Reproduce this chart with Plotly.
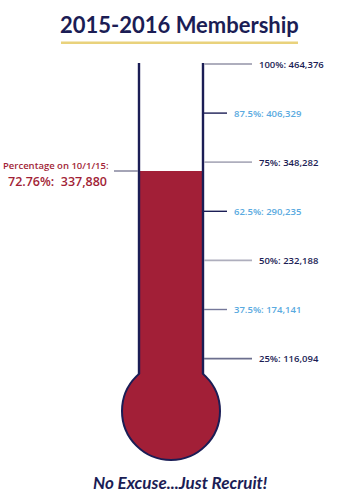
import plotly.graph_objects as go
import math

# ---- data ----
tick_pcts = [100, 87.5, 75, 62.5, 50, 37.5, 25]
tick_counts = [464376, 406329, 348282, 290235, 232188, 174141, 116094]
goal = 464376
current = 337880
current_date = "10/1/15"
title_text = "2015-2016 Membership"
footer_text = "No Excuse...Just Recruit!"

current_pct = current / goal * 100

W, H = 360, 504
TOP_PX = 64.0      # pixel row of 100%
K = 3.928          # pixels per percent
y_top = 100 + TOP_PX / K
y_bot = 100 - (H - TOP_PX) / K


def pct_of_px(py):
    return 100 - (py - TOP_PX) / K


def paper_y(py):
    return 1 - py / H


NAVY = "#1b1d55"
RED = "#a21f37"
LIGHTBLUE = "#5aaae0"
GOLD = "#e9d27c"
FONT = "Lato"
LFONT = "Open Sans"

# bulb geometry (pixels)
bx, by, br = 171, 411, 49
lw_x, rw_x = 139, 203
wall_bottom_px = by - math.sqrt(br**2 - (bx - lw_x) ** 2)

fig = go.Figure()

# mercury column
base = pct_of_px(by)
fig.add_trace(go.Bar(
    x=[bx], y=[current_pct - base], base=[base], width=[rw_x - lw_x - 1.6],
    marker=dict(color=RED, line=dict(width=0)), hoverinfo="skip", showlegend=False,
))

shapes = []
# bulb
shapes.append(dict(type="circle", xref="x", yref="y", layer="below",
                   x0=bx - br, x1=bx + br,
                   y0=pct_of_px(by + br), y1=pct_of_px(by - br),
                   fillcolor=RED, line=dict(color=NAVY, width=2)))
# tube walls
for wx in (lw_x, rw_x):
    shapes.append(dict(type="line", xref="x", yref="y", layer="above",
                       x0=wx, x1=wx, y0=pct_of_px(wall_bottom_px), y1=100.25,
                       line=dict(color=NAVY, width=2.4)))

annotations = []
minor_line_colors = {87.5: NAVY, 62.5: NAVY, 37.5: "#75789a"}
major_line_colors = {100: "#aeaebd", 75: "#aeaebd", 50: "#aeaebd", 25: "#6c6f8e"}
for p, c in zip(tick_pcts, tick_counts):
    major = (p % 25 == 0)
    x_end = 252 if major else 227
    col = major_line_colors.get(p) if major else minor_line_colors.get(p)
    shapes.append(dict(type="line", xref="x", yref="y", layer="above",
                       x0=rw_x + 1, x1=x_end, y0=p, y1=p,
                       line=dict(color=col, width=1.8 if major else 1.4)))
    annotations.append(dict(
        x=x_end + 5, y=p, xref="x", yref="y", xanchor="left", yanchor="middle",
        text=f"{p:g}%: {c:,}", showarrow=False,
        font=dict(family=LFONT, size=9.5, weight=600, color=NAVY if major else LIGHTBLUE),
    ))

# pointer to current level
shapes.append(dict(type="line", xref="x", yref="y", layer="above",
                   x0=114, x1=lw_x - 1, y0=current_pct, y1=current_pct,
                   line=dict(color="#8e8ea4", width=1.6)))
annotations.append(dict(x=111, y=paper_y(166), xref="x", yref="paper",
                        xanchor="right", yanchor="middle", showarrow=False,
                        text=f"Percentage on {current_date}:",
                        font=dict(family=LFONT, size=9.5, weight=600, color=RED)))
annotations.append(dict(x=109, y=paper_y(181.5), xref="x", yref="paper",
                        xanchor="right", yanchor="middle", showarrow=False,
                        text=f"{current_pct:.2f}%:&nbsp;&nbsp;{current:,}",
                        font=dict(family=LFONT, size=12.5, weight=600, color=RED)))

# title + underline
annotations.append(dict(x=179.5, y=paper_y(24), xref="x", yref="paper",
                        xanchor="center", yanchor="middle", showarrow=False,
                        text=f"<b>{title_text}</b>",
                        font=dict(family=FONT, size=22, color=NAVY)))
shapes.append(dict(type="line", xref="x", yref="paper",
                   x0=61, x1=298, y0=paper_y(42.8), y1=paper_y(42.8),
                   line=dict(color=GOLD, width=2.4)))

# footer
annotations.append(dict(x=180, y=paper_y(482), xref="x", yref="paper",
                        xanchor="center", yanchor="middle", showarrow=False,
                        text=f"<b><i>{footer_text}</i></b>",
                        font=dict(family=FONT, size=17, color=NAVY)))

fig.update_layout(
    width=W, height=H, margin=dict(l=0, r=0, t=0, b=0),
    paper_bgcolor="white", plot_bgcolor="white",
    xaxis=dict(range=[0, W], visible=False, fixedrange=True),
    yaxis=dict(range=[y_bot, y_top], visible=False, fixedrange=True),
    shapes=shapes, annotations=annotations, showlegend=False, bargap=0,
)

fig.write_html("out.html", config={"displayModeBar": False})
